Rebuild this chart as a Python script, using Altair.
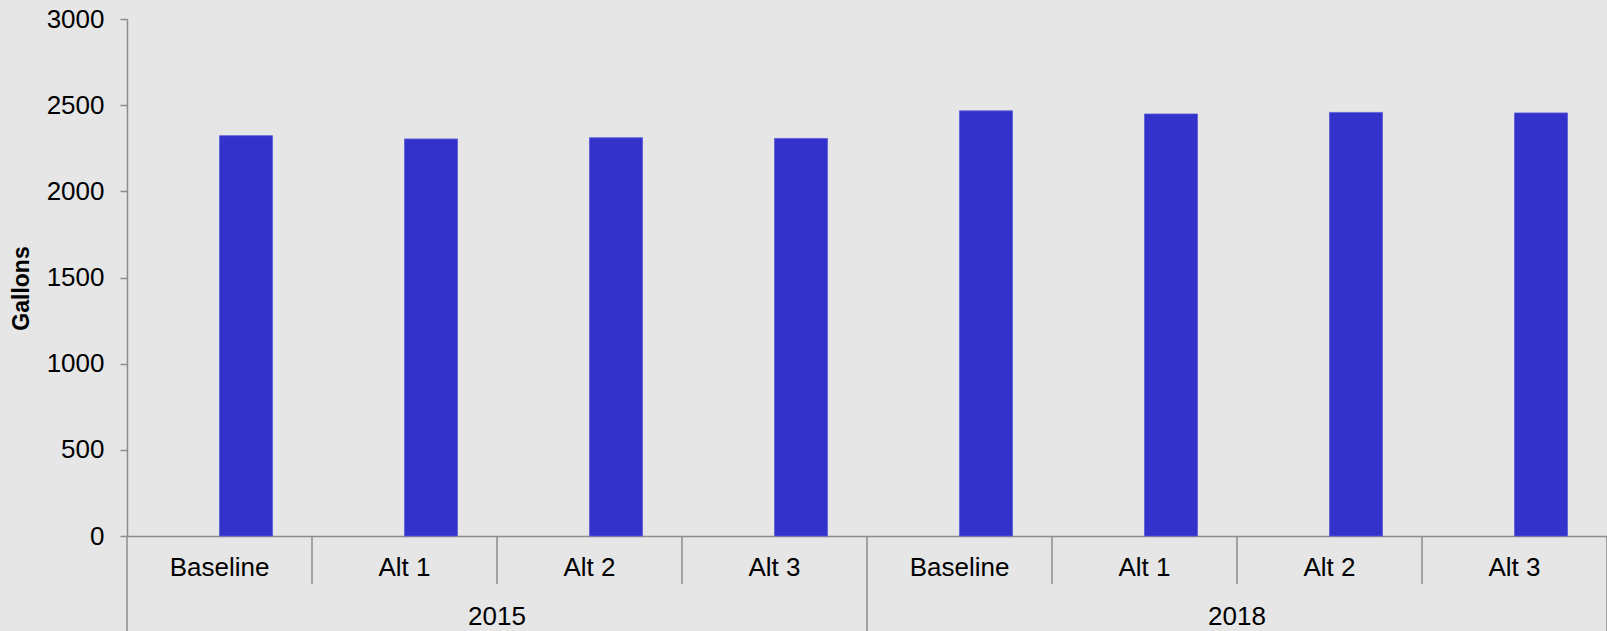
import altair as alt
import pandas as pd

# Annual water use by scenario, grouped by year
scenarios = ["Baseline", "Alt 1", "Alt 2", "Alt 3"]
years = ["2015", "2018"]
gallons_2015 = [2323, 2304, 2311, 2307]
gallons_2018 = [2467, 2449, 2458, 2455]
y_ticks = [0, 500, 1000, 1500, 2000, 2500, 3000]

rows = []
for yi, (yr, vals) in enumerate(zip(years, [gallons_2015, gallons_2018])):
    for si, (sc, v) in enumerate(zip(scenarios, vals)):
        rows.append({"year": yr, "scenario": sc, "slot": yi * len(scenarios) + si, "gallons": v})
df = pd.DataFrame(rows)

n_slots = len(df)
year_df = pd.DataFrame({"year": years, "first": [i * len(scenarios) for i in range(len(years))]})
year_edges = pd.DataFrame({"edge": [i * len(scenarios) for i in range(len(years) + 1)]})

W, H = 1480, 517
BAR = 0.2865
FONT = "Liberation Sans"
GRAY = "#8c8c8c"

x_scale = alt.Scale(domain=[0, n_slots], nice=False, zero=False)
y_scale = alt.Scale(domain=[0, 3000], nice=False)
x_axis = alt.Axis(labels=False, ticks=False, grid=False, domain=True,
                  domainColor=GRAY, domainWidth=1.5, title=None)

base = alt.Chart(df)

bars = base.transform_calculate(
    x0="datum.slot + 0.5", x1=f"datum.slot + 0.5 + {BAR}"
).mark_bar(color="#3333cc", stroke="#5a5ad6", strokeWidth=0.8).encode(
    x=alt.X("x0:Q", scale=x_scale, axis=x_axis),
    x2="x1:Q",
    y=alt.Y("gallons:Q", scale=y_scale, axis=alt.Axis(
        values=y_ticks, format="d", grid=False, tickSize=7, tickColor=GRAY, tickWidth=1.5,
        domainColor=GRAY, domainWidth=1.5,
        labelFont=FONT, labelFontSize=26, labelColor="black", labelPadding=16,
        title="Gallons", titleFont=FONT, titleFontSize=23, titleFontWeight="bold",
        titleColor="black", titleAngle=270, titleX=-106, titleY=269,
        titleAlign="center", titleBaseline="middle",
    )),
    y2=alt.datum(0),
)

# first-level category labels
cat_labels = base.transform_calculate(xc="datum.slot + 0.5").mark_text(
    font=FONT, fontSize=26, color="black", baseline="middle", align="center"
).encode(
    x=alt.X("xc:Q", scale=x_scale, axis=x_axis),
    y=alt.value(H + 32),
    text="scenario:N",
)

# short separators between scenarios within a year
cat_seps = base.transform_filter(f"datum.slot % {len(scenarios)} != 0").mark_rule(
    color=GRAY, strokeWidth=1.5
).encode(
    x=alt.X("slot:Q", scale=x_scale, axis=x_axis),
    y=alt.value(H),
    y2=alt.value(H + 48),
)

# long separators between years
year_seps = alt.Chart(year_edges).mark_rule(color=GRAY, strokeWidth=1.5).encode(
    x=alt.X("edge:Q", scale=x_scale, axis=x_axis),
    y=alt.value(H),
    y2=alt.value(H + 100),
)

# second-level year labels
year_labels = alt.Chart(year_df).transform_calculate(
    xc=f"datum.first + {len(scenarios) / 2}"
).mark_text(
    font=FONT, fontSize=26, color="black", baseline="middle", align="center"
).encode(
    x=alt.X("xc:Q", scale=x_scale, axis=x_axis),
    y=alt.value(H + 81),
    text="year:N",
)

chart = alt.layer(bars, cat_seps, year_seps, cat_labels, year_labels).properties(
    width=W,
    height=H,
    background="#e6e6e6",
    padding={"left": 127, "top": 19, "right": 0, "bottom": 95},
    autosize=alt.AutoSizeParams(type="none"),
).configure_view(stroke=None)

chart.save("out.html", embed_options={"renderer": "svg", "actions": False})
